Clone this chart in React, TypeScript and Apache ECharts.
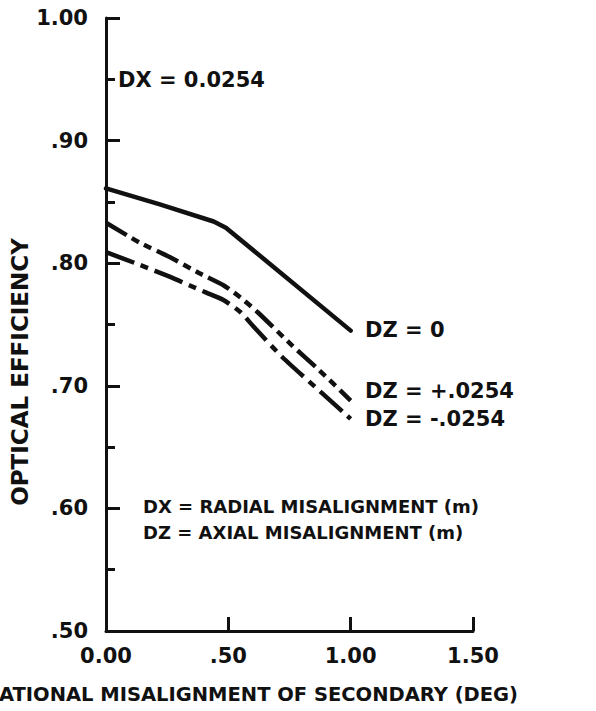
import React, { useEffect, useRef } from "react";
import * as echarts from "echarts";

// X: rotational misalignment (deg); Y: optical efficiency
const xTicks = [0, 0.5, 1.0, 1.5];
const yTicks = [0.5, 0.6, 0.7, 0.8, 0.9, 1.0];

const dz0X = [0, 0.22, 0.44, 0.49, 1.0];
const dz0Y = [0.861, 0.848, 0.834, 0.829, 0.745];

const dzPlusX = [0, 0.14, 0.26, 0.38, 0.48, 0.55, 0.62, 0.76, 0.87, 1.0];
const dzPlusY = [0.833, 0.8165, 0.805, 0.792, 0.782, 0.772, 0.76, 0.733, 0.713, 0.688];

const dzMinusX = [0, 0.14, 0.26, 0.34, 0.41, 0.48, 0.55, 0.6, 0.72, 0.9, 1.0];
const dzMinusY = [0.809, 0.7985, 0.789, 0.782, 0.776, 0.77, 0.76, 0.749, 0.7235, 0.691, 0.673];

const seriesNames = ["DZ = 0", "DZ = +.0254", "DZ = -.0254"];

const FONT = "DejaVu Sans";
const INK = "#111";

function pairs(xs: number[], ys: number[]) {
  return xs.map((x, i) => [x, ys[i]]);
}

function fmtX(v: number) {
  if (v === 0) return "0.00";
  const s = v.toFixed(2);
  return s.startsWith("0") ? s.slice(1) : s;
}
function fmtY(v: number) {
  const s = v.toFixed(2);
  return s.startsWith("0") ? s.slice(1) : s;
}

export default function App() {
  const ref = useRef<HTMLDivElement>(null);
  useEffect(() => {
    document.body.style.margin = "0";
    document.body.style.overflow = "hidden";
    const chart = echarts.init(ref.current!, null, { renderer: "svg" });
    const textStyle = (size: number) => ({
      fill: INK,
      font: `bold ${size}px "${FONT}"`,
    });
    chart.setOption({
      animation: false,
      backgroundColor: "#fff",
      grid: { left: 106, right: 123, top: 18, bottom: 80 },
      xAxis: {
        type: "value",
        min: xTicks[0],
        max: xTicks[xTicks.length - 1],
        interval: 0.5,
        axisLine: { show: true, lineStyle: { color: INK, width: 3 } },
        axisTick: { show: true, inside: true, length: 14, lineStyle: { color: INK, width: 3 } },
        axisLabel: {
          formatter: fmtX,
          color: INK,
          fontFamily: FONT,
          fontWeight: "bold",
          fontSize: 21,
          margin: 14,
        },
        splitLine: { show: false },
      },
      yAxis: {
        type: "value",
        min: yTicks[0],
        max: yTicks[yTicks.length - 1],
        interval: 0.1,
        axisLine: { show: true, lineStyle: { color: INK, width: 3 } },
        axisTick: { show: true, inside: true, length: 14, lineStyle: { color: INK, width: 3 } },
        minorTick: { show: true, splitNumber: 2, length: 9, lineStyle: { color: INK, width: 3 } },
        axisLabel: {
          formatter: fmtY,
          color: INK,
          fontFamily: FONT,
          fontWeight: "bold",
          fontSize: 21,
          margin: 18,
        },
        splitLine: { show: false },
      },
      series: [
        {
          name: seriesNames[0],
          type: "line",
          data: pairs(dz0X, dz0Y),
          showSymbol: false,
          lineStyle: { color: INK, width: 4.5, type: "solid", cap: "round", join: "round" },
        },
        {
          name: seriesNames[1],
          type: "line",
          data: pairs(dzPlusX, dzPlusY),
          showSymbol: false,
          smooth: 0.2,
          lineStyle: { color: INK, width: 4.5, type: [24, 6, 8, 6, 8, 6], join: "round" },
        },
        {
          name: seriesNames[2],
          type: "line",
          data: pairs(dzMinusX, dzMinusY),
          showSymbol: false,
          smooth: 0.2,
          lineStyle: { color: INK, width: 4.5, type: [30, 7, 8, 7], join: "round" },
        },
      ],
      graphic: [
        {
          type: "text",
          x: 118,
          y: 80,
          style: { ...textStyle(21), text: "DX = 0.0254", textVerticalAlign: "middle" },
        },
        {
          type: "text",
          x: 365,
          y: 330,
          style: { ...textStyle(21), text: seriesNames[0], textVerticalAlign: "middle" },
        },
        {
          type: "text",
          x: 365,
          y: 391,
          style: { ...textStyle(21), text: seriesNames[1], textVerticalAlign: "middle" },
        },
        {
          type: "text",
          x: 365,
          y: 419,
          style: { ...textStyle(21), text: seriesNames[2], textVerticalAlign: "middle" },
        },
        {
          type: "text",
          x: 143,
          y: 506,
          style: { ...textStyle(18), text: "DX = RADIAL MISALIGNMENT (m)", textVerticalAlign: "middle" },
        },
        {
          type: "text",
          x: 143,
          y: 532,
          style: { ...textStyle(18), text: "DZ = AXIAL MISALIGNMENT (m)", textVerticalAlign: "middle" },
        },
        {
          type: "text",
          x: 20,
          y: 372,
          rotation: Math.PI / 2,
          style: {
            ...textStyle(23),
            text: "OPTICAL EFFICIENCY",
            textAlign: "center",
            textVerticalAlign: "middle",
          },
        },
        {
          type: "text",
          x: 518,
          y: 694,
          style: {
            ...textStyle(19.5),
            text: "ATIONAL MISALIGNMENT OF SECONDARY (DEG)",
            textAlign: "right",
            textVerticalAlign: "middle",
          },
        },
      ],
    });
    return () => chart.dispose();
  }, []);
  return <div ref={ref} style={{ width: 596, height: 711 }} />;
}
